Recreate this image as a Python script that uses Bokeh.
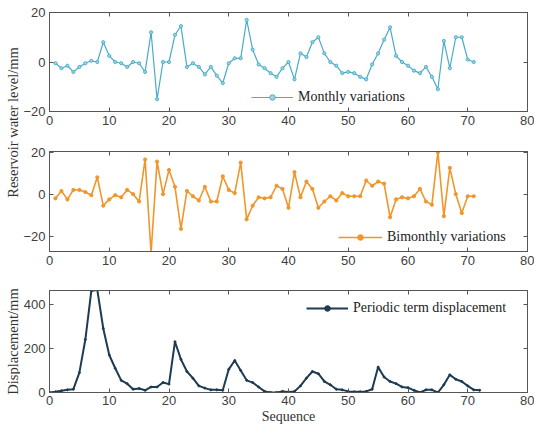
import math
from bokeh.plotting import figure
from bokeh.layouts import row, column
from bokeh.models import Label, LinearAxis, FixedTicker, Range1d
from bokeh.embed import file_html
from bokeh.resources import INLINE

# ---------------- data ----------------
seq_monthly = list(range(1, 72))
monthly = [-0.5, -2.5, -1.5, -4, -2, -0.5, 0.5, 0, 8, 2.5,
           0, -0.5, -2, 0, -0.5, -4, 12, -15, 0, 0,
           11, 14.5, -2, -0.5, -2, -5, -2, -5.5, -8.5, -0.5,
           1.5, 1.5, 17, 5, -1, -2.5, -4.5, -6, -2.5, 0,
           -7, 3.5, 2, 8, 10, 3.5, 0, -1.5, -4.5, -4,
           -4.5, -6, -7, -1, 3.5, 9, 14, 2.5, 0, -1.5,
           -3.5, -4.5, -2, -6, -11, 8.5, -2.5, 10, 10, 1,
           0]

seq_bimonthly = list(range(1, 72))
bimonthly = [-2, 1.5, -2.5, 2, 2, 1, -0.5, 8, -5.5, -2.5,
             -0.5, -1.5, 2, 0, -3.5, 16.5, -28, 15.5, 0, 11.5,
             3.5, -16.5, 1.5, -1, -3, 3.5, -3.5, -3.5, 8.5, 2,
             0.5, 15, -12, -5.5, -1.5, -2, -1.5, 4, 2.5, -6.5,
             10.5, -1.5, 6, 2.5, -6.5, -3.5, -1, -3, 0.5, -1,
             -1, -1, 6.5, 4, 6, 5, -11, -2.5, -1.5, -2,
             -1, 2.5, -3.5, -5, 20, -10.5, 12.5, 0, -9, -1,
             -1]

seq_periodic = list(range(0, 73))
periodic = [0, 3, 8, 12, 15, 90, 240, 460, 465, 290,
            170, 110, 55, 40, 15, 18, 10, 25, 25, 45,
            38, 230, 150, 95, 65, 30, 20, 12, 12, 10,
            105, 145, 100, 55, 45, 25, 5, 0, 0, 5,
            2, 5, 30, 65, 95, 85, 50, 35, 15, 12,
            5, 3, 3, 5, 15, 115, 70, 50, 40, 25,
            22, 10, 0, 12, 12, 0, 35, 80, 60, 50,
            30, 12, 10]

x_ticks = [0, 10, 20, 30, 40, 50, 60, 70, 80]
y_ticks_var = [-20, 0, 20]
y_ticks_disp = [0, 200, 400]

C_MONTH = "#4aabc6"
C_BIMON = "#f0962a"
C_PER = "#1d3b52"
AX = "#555555"
TICK_TXT = "#404040"
SANS = "Liberation Sans"
SERIF = "Liberation Serif"


def style_axis(ax, ticks, labels=True):
    ax.ticker = FixedTicker(ticks=ticks)
    ax.axis_line_color = AX
    ax.major_tick_line_color = AX
    ax.major_tick_in = 4
    ax.major_tick_out = 0
    ax.minor_tick_line_color = None
    if labels:
        ax.major_label_text_font = SANS
        ax.major_label_text_font_size = "13px"
        ax.major_label_text_color = TICK_TXT
        ax.major_label_standoff = 4
    else:
        ax.major_label_text_font_size = "0px"
        ax.major_label_standoff = 0
        ax.major_label_text_color = None


def make_fig(height, y0, y1, yticks, top, bottom):
    p = figure(width=514, height=height, output_backend="svg", toolbar_location=None,
               x_range=Range1d(0, 80), y_range=Range1d(y0, y1),
               min_border_left=26, min_border_right=7,
               min_border_top=top, min_border_bottom=bottom)
    p.xgrid.visible = False
    p.ygrid.visible = False
    p.outline_line_color = AX
    p.outline_line_width = 1
    bottom_axis = p.xaxis[0]
    style_axis(bottom_axis, x_ticks)
    style_axis(p.yaxis[0], yticks)
    ta = LinearAxis()
    style_axis(ta, x_ticks, labels=False)
    p.add_layout(ta, "above")
    ra = LinearAxis()
    style_axis(ra, yticks, labels=False)
    p.add_layout(ra, "right")
    p.background_fill_color = "white"
    p.border_fill_color = "white"
    return p, bottom_axis


def style_legend(p, loc, gw):
    lg = p.legend[0]
    lg.location = loc
    lg.border_line_color = None
    lg.background_fill_alpha = 0
    lg.padding = 0
    lg.margin = 0
    lg.glyph_width = gw
    lg.glyph_height = 14
    lg.label_height = 14
    lg.label_standoff = 5
    lg.label_text_font = SERIF
    lg.label_text_font_size = "14px"
    lg.label_text_color = "#222222"


# Panel 1
p1, _ = make_fig(140, -20, 20, y_ticks_var, 12, 29)
p1.line(seq_monthly, monthly, color=C_MONTH, line_width=1.2, legend_label="Monthly variations")
p1.scatter(seq_monthly, monthly, size=3.2, line_color=C_MONTH, fill_color="#9ad4e3",
           line_width=0.9, legend_label="Monthly variations")
style_legend(p1, (202, 6), 42)

# Panel 2
p2, _ = make_fig(139, -27.3, 20.3, y_ticks_var, 11, 28)
p2.line(seq_bimonthly, bimonthly, color=C_BIMON, line_width=1.6, legend_label="Bimonthly variations")
p2.scatter(seq_bimonthly, bimonthly, size=3.2, color=C_BIMON, legend_label="Bimonthly variations")
style_legend(p2, (289, 6), 44)

# Panel 3
p3, p3x = make_fig(148, 0, 462, y_ticks_disp, 11, 35)
p3.line(seq_periodic, periodic, color=C_PER, line_width=2, legend_label="Periodic term displacement")
p3.scatter(seq_periodic, periodic, size=2, color=C_PER, legend_label="Periodic term displacement")
style_legend(p3, (257, 76), 42)
p3x.axis_label = "Sequence"
p3x.axis_label_text_font = SERIF
p3x.axis_label_text_font_size = "14px"
p3x.axis_label_text_font_style = "normal"
p3x.axis_label_text_color = "#333333"
p3x.axis_label_standoff = 1
p3x.major_label_standoff = 3

# Left strip holding the vertical axis titles
strip = figure(width=20, height=427, output_backend="svg", toolbar_location=None,
               x_range=Range1d(0, 20), y_range=Range1d(0, 427),
               min_border=0)
strip.axis.visible = False
strip.grid.visible = False
strip.outline_line_color = None
strip.border_fill_color = "white"
strip.background_fill_color = "white"
strip.add_layout(Label(x=12, y=427 - 122, text="Reservoir water level/mm", angle=math.pi / 2,
                       text_align="center", text_baseline="middle", text_font=SERIF,
                       text_font_size="14.5px", text_color="#333333"))
strip.add_layout(Label(x=12, y=427 - 341, text="Displacement/mm", angle=math.pi / 2,
                       text_align="center", text_baseline="middle", text_font=SERIF,
                       text_font_size="14.5px", text_color="#333333"))

layout = row(strip, column(p1, p2, p3, spacing=0), spacing=0)

open("out.html", "w").write(file_html(layout, INLINE))
